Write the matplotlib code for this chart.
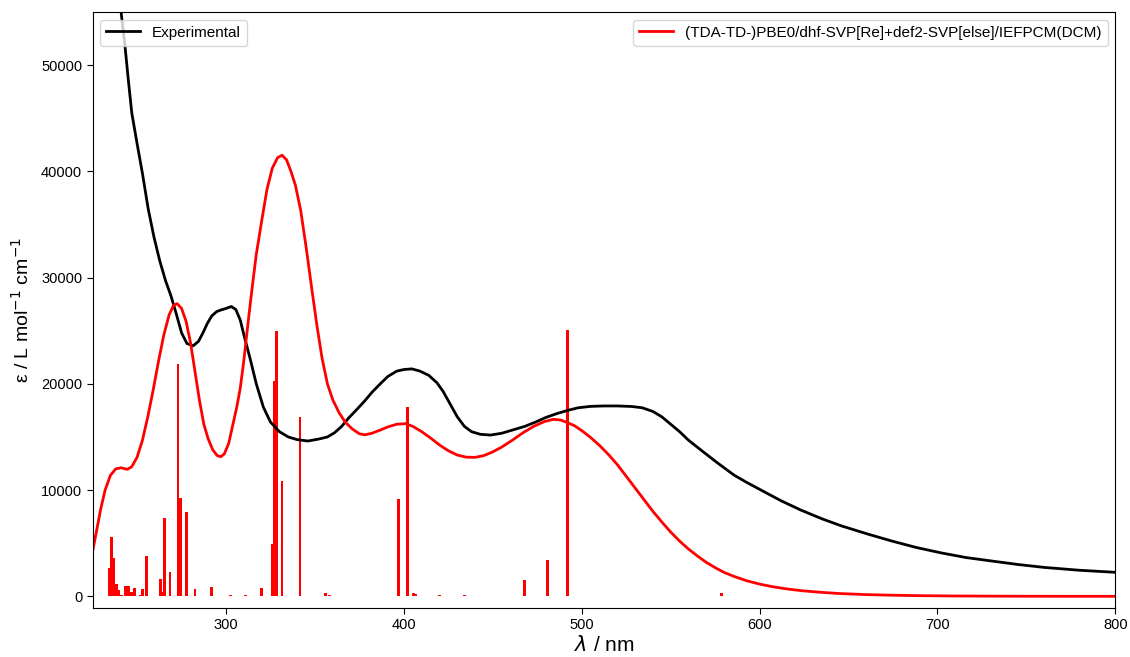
import matplotlib
matplotlib.use("Agg")
import matplotlib.pyplot as plt

plt.rcParams['font.family'] = ['Liberation Sans', 'DejaVu Sans']
plt.rcParams['mathtext.fontset'] = 'dejavusans'

# Experimental absorption spectrum (nm, L mol^-1 cm^-1)
exp_wl = [238, 240.8, 243, 245, 247, 250, 253, 256.2, 259.5, 262.7, 266, 269, 272, 275, 278,
          281.5, 284.5, 287, 289.5, 292, 294.7, 297, 300, 303, 305.5, 308, 310.5, 313.5, 317,
          321, 325, 330, 335, 340, 346, 352, 357, 361, 365, 369, 373.6, 378, 382, 386.7, 391,
          396, 400, 404.5, 409, 414, 418.6, 422, 426, 430, 434, 438, 443, 448.7, 455, 462, 468,
          474, 480, 486, 492, 498, 505, 512, 520, 528, 534, 540, 545, 550, 555, 560, 567, 576,
          585.7, 593, 600.8, 612, 623.3, 635, 645.8, 660, 674.4, 688, 702, 716, 731.5, 745,
          760, 780, 800]
exp_eps = [58000, 55260, 52100, 48700, 45500, 42600, 39800, 36500, 33800, 31600, 29700, 28300,
           26600, 24800, 23800, 23580, 24000, 24800, 25700, 26400, 26800, 26950, 27100, 27280,
           27000, 26000, 24300, 22400, 20000, 17800, 16400, 15500, 15000, 14750, 14620, 14800,
           15000, 15400, 16000, 16800, 17600, 18400, 19200, 20000, 20700, 21200, 21350, 21410,
           21200, 20800, 20100, 19300, 18100, 16900, 16000, 15500, 15250, 15180, 15350, 15700,
           16000, 16400, 16850, 17200, 17500, 17750, 17880, 17920, 17920, 17870, 17750, 17400,
           16900, 16200, 15500, 14700, 13770, 12600, 11400, 10700, 10000, 9000, 8110, 7300,
           6640, 5900, 5200, 4600, 4090, 3650, 3300, 3000, 2720, 2450, 2260]

# Broadened TDA-TD-DFT spectrum
calc_wl = [225, 227, 229.5, 232, 235, 238, 241, 244.5, 247, 250, 253, 256, 259, 262, 265, 268,
           270.5, 272.5, 275, 277.5, 280, 282.5, 285, 287.5, 290, 292.5, 295, 297, 299, 301.5,
           304, 306, 308, 310, 312, 314.5, 317, 320, 323, 326, 329, 331.5, 334, 336.5, 339, 342,
           345, 348, 351, 354, 357, 360, 363.5, 367, 371, 375, 378, 382, 386.7, 391, 396, 401,
           405, 410, 415, 420, 425, 430, 435, 440, 445, 450, 455, 461, 467, 473, 479, 484, 488,
           492, 496, 500, 505, 510, 515, 520, 525, 530, 535, 540, 545, 550, 555, 560, 565, 570,
           575, 580, 586, 593, 600, 608, 616, 624, 635, 645, 660, 675, 690, 710, 740, 770, 800]
calc_eps = [4240, 6000, 8200, 10000, 11400, 12000, 12100, 11950, 12200, 13100, 14700, 16900,
            19400, 22100, 24600, 26500, 27400, 27550, 27100, 25900, 23900, 21200, 18500, 16200,
            14800, 13800, 13250, 13140, 13400, 14400, 16290, 17800, 19600, 22200, 25200, 28800,
            32200, 35300, 38300, 40300, 41300, 41520, 41100, 40000, 38700, 36300, 32900, 29200,
            25600, 22400, 20000, 18500, 17300, 16400, 15750, 15300, 15200, 15350, 15650, 15950,
            16200, 16250, 16000, 15500, 14900, 14250, 13700, 13300, 13100, 13080, 13250, 13600,
            14050, 14700, 15400, 16000, 16450, 16660, 16600, 16350, 16050, 15600, 14950, 14200,
            13350, 12400, 11300, 10200, 9100, 8000, 7000, 6050, 5200, 4450, 3800, 3200, 2700,
            2250, 1850, 1450, 1150, 880, 680, 520, 370, 260, 160, 100, 60, 30, 10, 0, 0]

# Individual excitations (nm, stick height)
stick_wl = [234.6, 235.7, 237.0, 238.5, 239.5, 241.0, 243.5, 245.0, 247.0, 248.5, 252.0, 253.0,
            255.5, 263.0, 264.0, 265.5, 268.5, 273.0, 274.5, 278.0, 282.5, 292.0, 302.7, 311.0,
            320.0, 326.0, 327.2, 328.4, 331.5, 341.6, 356.0, 358.0, 397.2, 401.9, 405.3, 406.5,
            420.2, 434.0, 467.8, 480.8, 492.0, 578.7]
stick_eps = [2640, 5570, 3590, 1130, 570, 100, 970, 970, 400, 780, 100, 700,
             3800, 1630, 400, 7330, 2300, 21890, 9280, 7900, 700, 880, 100, 100,
             780, 4930, 20280, 25000, 10820, 16890, 300, 100, 9200, 17800, 300, 200,
             100, 100, 1570, 3460, 25090, 300]

fig = plt.figure(figsize=(11.3, 6.57), dpi=100)
ax = fig.add_axes([0.082, 0.0746, 0.905, 0.907])

exp_line, = ax.plot(exp_wl, exp_eps, color='black', lw=2, label='Experimental')
calc_line, = ax.plot(calc_wl, calc_eps, color='red', lw=2,
                     label='(TDA-TD-)PBE0/dhf-SVP[Re]+def2-SVP[else]/IEFPCM(DCM)')
ax.bar(stick_wl, stick_eps, width=1.6, color='red', linewidth=0)

ax.set_xlim(225, 800)
ax.set_ylim(-1100, 55000)
ax.set_xticks([300, 400, 500, 600, 700, 800])
ax.set_yticks([0, 10000, 20000, 30000, 40000, 50000])
ax.tick_params(labelsize=10.5, length=4)

ax.set_xlabel(r'$\lambda$ / nm', fontsize=15, labelpad=2)
ax.set_ylabel(r'ε / L mol$^{-1}$ cm$^{-1}$', fontsize=14, labelpad=6)

leg1 = ax.legend(handles=[exp_line], loc='upper left', fontsize=11, handlelength=2.2)
ax.add_artist(leg1)
ax.legend(handles=[calc_line], loc='upper right', fontsize=11, handlelength=2.2)

fig.savefig('out.png', dpi=100)
